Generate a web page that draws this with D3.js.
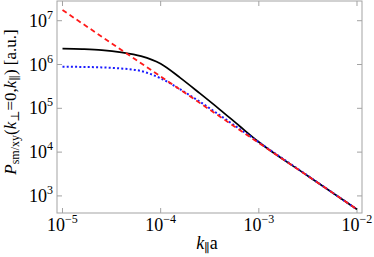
<!DOCTYPE html>
<html><head><meta charset="utf-8">
<script src="https://cdn.jsdelivr.net/npm/d3@7"></script>
<style>body{margin:0;background:#fff}svg{display:block}text{font-family:"Liberation Serif","DejaVu Serif",serif;fill:#000}</style>
</head><body>
<svg id="c" width="374" height="257"></svg>
<script>
const xTicks = [1e-5, 1e-4, 1e-3, 1e-2];
const xTickExp = ["−5", "−4", "−3", "−2"];
const yTicks = [1e3, 1e4, 1e5, 1e6, 1e7];
const yTickExp = ["3", "4", "5", "6", "7"];
const kGrid = [1e-5, 1.585e-5, 2.512e-5, 3.981e-5, 6.31e-5, 1e-4, 1.585e-4, 2.512e-4, 3.981e-4, 6.31e-4, 1e-3, 3.162e-3, 1e-2];
const pSolid = [2.30e6, 2.25e6, 2.14e6, 1.90e6, 1.55e6, 1.04e6, 4.96e5, 2.19e5, 9.5e4, 4.0e4, 1.7e4, 2.86e3, 494];
const pDotted = [8.9e5, 8.8e5, 8.6e5, 8.1e5, 7.1e5, 4.85e5, 2.7e5, 1.41e5, 7.0e4, 3.43e4, 1.68e4, 2.88e3, 490];
const kDashed = [1e-5, 1e-2];
const pDashed = [1.75e7, 494];

const svg = d3.select("#c");
const L = 57, R = 362, T = 1, B = 213;
const x = d3.scaleLog().domain([Math.pow(10,-5.056), Math.pow(10,-1.949)]).range([L, R]);
const y = d3.scaleLog().domain([Math.pow(10,2.61), Math.pow(10,7.45)]).range([B, T]);
const gray = "#a3a3a3";

svg.append("rect").attr("x", L).attr("y", T).attr("width", R-L).attr("height", B-T)
  .attr("fill", "none").attr("stroke", gray).attr("stroke-width", 1);

const tl = 5;
const g = svg.append("g").attr("stroke", gray).attr("stroke-width", 1);
xTicks.forEach(t => {
  const px = x(t);
  g.append("line").attr("x1", px).attr("x2", px).attr("y1", B).attr("y2", B - tl);
  g.append("line").attr("x1", px).attr("x2", px).attr("y1", T).attr("y2", T + tl);
});
yTicks.forEach(t => {
  const py = y(t);
  g.append("line").attr("x1", L).attr("x2", L + tl).attr("y1", py).attr("y2", py);
  g.append("line").attr("x1", R).attr("x2", R - tl).attr("y1", py).attr("y2", py);
});

// tick labels
xTicks.forEach((t, i) => {
  const tx = svg.append("text").attr("x", x(t)).attr("y", 231).attr("text-anchor", "middle").attr("font-size", 18);
  tx.append("tspan").text("10");
  tx.append("tspan").attr("dy", -8).attr("font-size", 12).text(xTickExp[i]);
});
yTicks.forEach((t, i) => {
  const tx = svg.append("text").attr("x", 53).attr("y", y(t) + 6).attr("text-anchor", "end").attr("font-size", 18);
  tx.append("tspan").text("10");
  tx.append("tspan").attr("dy", -8).attr("font-size", 12).text(yTickExp[i]);
});

// curves
svg.append("clipPath").attr("id", "cp").append("rect").attr("x", L).attr("y", T).attr("width", R-L).attr("height", B-T);
const line = d3.line().x(d => x(d[0])).y(d => y(d[1])).curve(d3.curveMonotoneX);
const plot = svg.append("g").attr("clip-path", "url(#cp)");
plot.append("path").datum(kGrid.map((k,i)=>[k,pSolid[i]])).attr("d", line)
  .attr("fill","none").attr("stroke","#000").attr("stroke-width",1.7);
plot.append("path").datum(kGrid.map((k,i)=>[k,pDotted[i]])).attr("d", line)
  .attr("fill","none").attr("stroke","#1a1aff").attr("stroke-width",2).attr("stroke-dasharray","2,2.2");
plot.append("path").datum(kDashed.map((k,i)=>[k,pDashed[i]])).attr("d", line)
  .attr("fill","none").attr("stroke","#ff1a1a").attr("stroke-width",1.8).attr("stroke-dasharray","5,3.5");

// x title
const xt = svg.append("text").attr("x", 207).attr("y", 249).attr("text-anchor", "middle").attr("font-size", 18);
xt.append("tspan").attr("font-style","italic").text("k");
xt.append("tspan").attr("font-size", 12).attr("dy", 3).text("∥");
xt.append("tspan").attr("dy", -3).text("a");

// y title
const yt = svg.append("text").attr("transform", "translate(16,102) rotate(-90)").attr("text-anchor", "middle").attr("font-size", 17);
yt.append("tspan").attr("font-style","italic").text("P");
yt.append("tspan").attr("font-size", 12).attr("dy", 3).text("sm/xy");
yt.append("tspan").attr("dy", -3).text("(");
yt.append("tspan").attr("font-style","italic").text("k");
yt.append("tspan").attr("font-size", 12).attr("dy", 3).text("⊥");
yt.append("tspan").attr("dy", -3).text("=0,");
yt.append("tspan").attr("font-style","italic").text("k");
yt.append("tspan").attr("font-size", 12).attr("dy", 3).text("∥");
yt.append("tspan").attr("dy", -3).text(") [a.u.]");
</script>
</body></html>
